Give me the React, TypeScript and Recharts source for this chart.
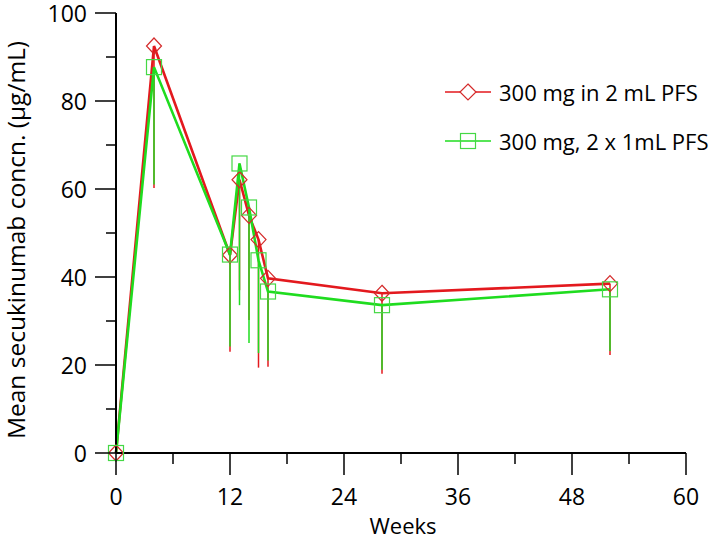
import { LineChart, Line, XAxis, YAxis, ErrorBar } from 'recharts';

// sampling times (weeks)
const weeks = [0, 4, 12, 13, 14, 15, 16, 28, 52];

// mean concentrations
const pfs2mL = [0, 92.5, 45, 62.1, 54, 48.5, 39.7, 36.3, 38.5];
const pfs2x1mL = [0, 87.7, 45.1, 65.8, 55.8, 43.8, 36.7, 33.6, 37.2];

// lower end of each error bar (mean - SD)
const pfs2mLLow = [0, 60.2, 23, 37, 30.2, 19.4, 19.6, 18, 22.3];
const pfs2x1mLLow = [0, 61, 24.2, 33.6, 25, 22.7, 21, 18.9, 23.2];

// major + minor ticks; only the majors get a label
const xTicks = [0, 6, 12, 18, 24, 30, 36, 42, 48, 54, 60];
const xLabelled = [0, 12, 24, 36, 48, 60];
const yTicks = [0, 10, 20, 30, 40, 50, 60, 70, 80, 90, 100];
const yLabelled = [0, 20, 40, 60, 80, 100];

const RED = '#e3191e';
const GREEN = '#1fdc1f';
const FONT = '"Open Sans", sans-serif';

const rows = weeks.map((week, i) => ({
  week,
  a: pfs2mL[i],
  aErr: [pfs2mL[i] - pfs2mLLow[i], 0],
  b: pfs2x1mL[i],
  bErr: [pfs2x1mL[i] - pfs2x1mLLow[i], 0],
}));

const DiamondDot = (props: any) => {
  const { cx, cy, index } = props;
  return (
    <path
      key={`d-${index}`}
      d={`M${cx},${cy - 8} L${cx + 7.5},${cy} L${cx},${cy + 8} L${cx - 7.5},${cy} Z`}
      fill="none"
      stroke="#d42a2a"
      strokeWidth={1.2}
    />
  );
};

const SquareDot = (props: any) => {
  const { cx, cy, index } = props;
  return (
    <rect key={`s-${index}`} x={cx - 7.5} y={cy - 7.5} width={15} height={15} fill="none" stroke="#45d845" strokeWidth={1.2} />
  );
};

// tick mark + label drawn together so minor ticks can be shorter
const XTick = (props: any) => {
  const { x, y, payload } = props;
  const major = xLabelled.includes(payload.value);
  return (
    <g>
      <line x1={x} y1={y} x2={x} y2={y + (major ? 22 : 11)} stroke="#000" strokeWidth={1.5} />
      {major && (
        <text x={x} y={y + 52} textAnchor="middle" fontSize={23} fontFamily={FONT} fill="#000">
          {payload.value}
        </text>
      )}
    </g>
  );
};

const YTick = (props: any) => {
  const { x, y, payload } = props;
  const major = yLabelled.includes(payload.value);
  return (
    <g>
      <line x1={x} y1={y} x2={x - (major ? 21 : 10)} y2={y} stroke="#000" strokeWidth={1.5} />
      {major && (
        <text x={x - 29} y={y + 9} textAnchor="end" fontSize={23} fontFamily={FONT} fill="#000">
          {payload.value}
        </text>
      )}
    </g>
  );
};

const axisLine = { stroke: '#000', strokeWidth: 2 };

export default function App() {
  return (
    <div style={{ position: 'absolute', left: 0, top: 0, width: 709, height: 544, background: '#fff', fontFamily: FONT }}>
      <LineChart width={709} height={544} data={rows} margin={{ top: 13, right: 23, bottom: 0, left: 0 }}>
        <XAxis
          dataKey="week"
          type="number"
          domain={[0, 60]}
          ticks={xTicks}
          interval={0}
          height={91}
          tickSize={0}
          tickMargin={0}
          axisLine={axisLine}
          tickLine={false}
          tick={XTick}
        />
        <YAxis
          type="number"
          domain={[0, 100]}
          ticks={yTicks}
          interval={0}
          width={116}
          tickSize={0}
          tickMargin={0}
          axisLine={axisLine}
          tickLine={false}
          tick={YTick}
        />
        <Line dataKey="a" stroke={RED} strokeWidth={2.6} dot={DiamondDot} activeDot={false} isAnimationActive={false}>
          <ErrorBar dataKey="aErr" direction="y" width={0} stroke={RED} strokeWidth={1.5} />
        </Line>
        <Line dataKey="b" stroke={GREEN} strokeWidth={2.6} dot={SquareDot} activeDot={false} isAnimationActive={false}>
          <ErrorBar dataKey="bErr" direction="y" width={0} stroke={GREEN} strokeWidth={1.5} />
        </Line>
      </LineChart>

      {/* axis titles */}
      <div style={{ position: 'absolute', left: 403, top: 525, transform: 'translate(-50%, -50%)', fontSize: 22, lineHeight: '26px', whiteSpace: 'nowrap' }}>
        Weeks
      </div>
      <div
        style={{
          position: 'absolute',
          left: 16,
          top: 240,
          transform: 'translate(-50%, -50%) rotate(-90deg)',
          fontSize: 24.5,
          lineHeight: '26px',
          whiteSpace: 'nowrap',
        }}
      >
        Mean secukinumab concn. (µg/mL)
      </div>

      {/* legend */}
      {[
        { label: '300 mg in 2 mL PFS', color: RED, y: 92, shape: 'diamond' },
        { label: '300 mg, 2 x 1mL PFS', color: GREEN, y: 141, shape: 'square' },
      ].map((item) => (
        <div key={item.label} style={{ position: 'absolute', left: 445, top: item.y - 14, height: 28, display: 'flex', alignItems: 'center' }}>
          <svg width={46} height={24}>
            <line x1={0} y1={12} x2={46} y2={12} stroke={item.color} strokeWidth={1.5} />
            {item.shape === 'diamond' ? (
              <path d="M23,4 L31,12 L23,20 L15,12 Z" fill="#fff" stroke="#d42a2a" strokeWidth={1.2} />
            ) : (
              <rect x={15.5} y={4.5} width={15} height={15} fill="none" stroke="#45d845" strokeWidth={1.2} />
            )}
          </svg>
          <span style={{ marginLeft: 8, fontSize: 22, whiteSpace: 'nowrap' }}>{item.label}</span>
        </div>
      ))}
    </div>
  );
}
